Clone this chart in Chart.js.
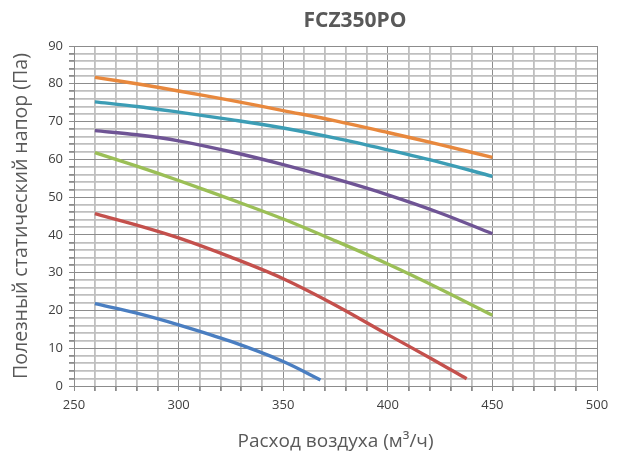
<!DOCTYPE html>
<html>
<head>
<meta charset="utf-8">
<script src="https://cdn.jsdelivr.net/npm/chart.js@4/dist/chart.umd.min.js"></script>
<style>
html,body{margin:0;padding:0;background:#fff;}
#c{display:block;}
</style>
</head>
<body>
<canvas id="c" width="617" height="457"></canvas>
<script>
const chartTitle = "FCZ350PO";
const xTitle = "Расход воздуха (м³/ч)";
const yTitle = "Полезный статический напор (Па)";

const orangeX = [260, 280, 300, 325, 350, 375, 400, 425, 450];
const orangeY = [81.7, 80.0, 78.1, 75.6, 72.9, 70.2, 67.1, 63.9, 60.5];
const tealX = [260, 280, 300, 325, 350, 375, 400, 425, 450];
const tealY = [75.2, 74.0, 72.5, 70.5, 68.3, 65.6, 62.5, 59.2, 55.5];
const purpleX = [260, 280, 300, 325, 350, 375, 400, 425, 450];
const purpleY = [67.6, 66.5, 64.9, 62.0, 58.6, 54.8, 50.6, 45.8, 40.3];
const greenX = [260, 280, 300, 325, 350, 375, 400, 425, 450];
const greenY = [61.8, 58.2, 54.4, 49.4, 44.2, 38.4, 32.3, 25.7, 18.7];
const redX = [260, 280, 300, 325, 350, 375, 400, 420, 437.7];
const redY = [45.6, 42.6, 39.2, 34.1, 28.4, 21.4, 13.6, 7.5, 1.9];
const blueX = [260, 280, 300, 325, 350, 367.8];
const blueY = [21.8, 19.3, 16.2, 11.8, 6.5, 1.6];

const seriesColors = ["#E8883D", "#3C9DB5", "#6F5495", "#9BBF56", "#C4504C", "#4A7EC1"];

function pts(xs, ys) { return xs.map((x, i) => ({x: x, y: ys[i]})); }

const datasets = [
  [orangeX, orangeY], [tealX, tealY], [purpleX, purpleY],
  [greenX, greenY], [redX, redY], [blueX, blueY]
].map((s, i) => ({
  data: pts(s[0], s[1]),
  borderColor: seriesColors[i],
  backgroundColor: seriesColors[i],
  borderWidth: 3.4,
  pointRadius: 0,
  tension: 0.35,
  fill: false
}));

const titlePlugin = {
  id: 'customTitle',
  afterDraw(chart) {
    const ctx = chart.ctx;
    ctx.save();
    ctx.font = "bold 21px 'Open Sans'";
    ctx.fillStyle = "#595959";
    ctx.textAlign = "center";
    ctx.textBaseline = "middle";
    ctx.fillText(chartTitle, 355, 21);
    ctx.restore();
  }
};

const majorColor = "#8c8c8c";
const minorColor = "#bfbfbf";

new Chart(document.getElementById('c'), {
  type: 'line',
  data: { datasets: datasets },
  plugins: [titlePlugin],
  options: {
    responsive: false,
    animation: false,
    layout: { padding: { left: 0, top: 46, right: 20, bottom: 0 } },
    plugins: { legend: { display: false }, tooltip: { enabled: false }, title: { display: false } },
    scales: {
      x: {
        type: 'linear',
        min: 250, max: 500,
        afterFit(s) { s.height = 71; },
        ticks: {
          stepSize: 10,
          autoSkip: false,
          maxRotation: 0,
          padding: 6,
          color: "#404040",
          font: { family: "'Open Sans'", size: 13 },
          callback: v => (v % 50 === 0 ? String(v) : '')
        },
        grid: {
          drawTicks: true,
          tickLength: 5,
          color: c => (c.tick && c.tick.value % 50 === 0 ? majorColor : minorColor),
          lineWidth: c => (c.tick && c.tick.value % 50 === 0 ? 1 : 1.8),
          tickColor: majorColor
        },
        border: { color: majorColor, width: 1 },
        title: {
          display: true,
          text: xTitle,
          color: "#595959",
          font: { family: "'Open Sans'", size: 19 },
          padding: { top: 6 }
        }
      },
      y: {
        min: 0, max: 90,
        afterFit(s) { s.width = 74; },
        ticks: {
          stepSize: 2,
          autoSkip: false,
          padding: 6,
          color: "#404040",
          font: { family: "'Open Sans'", size: 13 },
          callback: v => (v % 10 === 0 ? String(v) : '')
        },
        grid: {
          drawTicks: true,
          tickLength: 5,
          color: c => (c.tick && c.tick.value % 10 === 0 ? majorColor : minorColor),
          lineWidth: c => (c.tick && c.tick.value % 10 === 0 ? 1 : 1.8),
          tickColor: majorColor
        },
        border: { color: majorColor, width: 1 },
        title: {
          display: true,
          text: yTitle,
          color: "#595959",
          font: { family: "'Open Sans'", size: 19.5 },
          padding: { top: 10, bottom: 0 }
        }
      }
    }
  }
});
</script>
</body>
</html>
